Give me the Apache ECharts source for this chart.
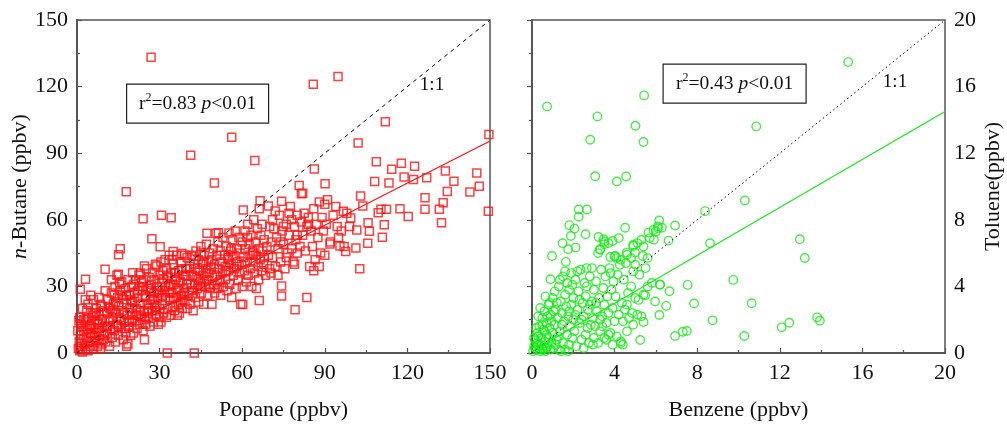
<!DOCTYPE html>
<html>
<head>
<meta charset="utf-8">
<script src="https://cdn.jsdelivr.net/npm/echarts@6/dist/echarts.min.js"></script>
<style>html,body{margin:0;padding:0;background:#fff}#c{width:1007px;height:426px}</style>
</head>
<body>
<div id="c"></div>
<script>
// ---------- DATA ----------
const leftTicksX = [0, 30, 60, 90, 120, 150];
const rightTicks = [0, 4, 8, 12, 16, 20];

// n-Butane vs Propane (ppbv): [propane, butane]
const butaneVsPropaneOutliers = [
[26.9,133.2],[94.8,124.6],[85.8,121.1],[112.0,104.2],[102.1,94.6],[56.2,97.2],[41.3,89.1],[64.6,86.7],[49.9,76.6],[17.9,72.6],
[86.2,82.9],[108.7,86.1],[117.8,85.5],[122.6,84.1],[114.3,82.8],[133.8,82.0],[145.2,81.1],[149.6,98.4],[149.4,63.9],[142.7,72.5],
[146.1,75.1],[136.9,77.4],[134.5,72.8],[127.0,78.9],[122.2,78.1],[118.8,79.3],[113.3,76.6],[108.1,77.2],[126.4,69.9],[126.4,64.7],
[131.6,64.7],[133.0,67.7],[132.4,58.7],[120.3,61.5],[117.3,65.0],[112.4,64.7],[110.4,64.7],[109.4,63.2],[111.6,57.8],[110.9,52.1],
[105.7,58.7],[106.2,54.8],[101.6,55.4],[101.3,47.3],[105.6,49.4],[102.7,38.0],[103.0,70.7],[103.8,66.2],[99.4,60.8],[96.7,63.8],
[97.6,45.7],[95.5,48.2],[91.9,49.1],[90.1,76.2],[80.7,75.4],[81.5,71.7],[74.3,68.4],[69.5,66.2],[66.5,68.6],[60.4,64.4],
[51.3,54.2],[30.7,62.0],[34.2,60.9],[24.0,60.5],[27.2,51.5],[15.7,47.0],[15.1,44.3],[10.2,37.7],[3.1,33.2],[1.2,28.7],
[15.0,35.5],[20.2,36.2],[24.5,39.2],[28.9,39.2],[30.2,47.9],[34.9,45.7],[38.1,44.8],[42.5,43.7],[47.2,53.9],[50.5,53.9],
[74.3,30.2],[74.3,25.7],[83.5,25.0],[79.2,19.5],[66.2,23.7],[60.2,21.9],[18.0,3.0],[32.8,0.0],[42.6,0.0],[24.5,6.0],[0.7,14.5]
];
const butaneVsPropaneLow = [
[0.5,2],[0.8,5],[1,1],[1.2,8],[1.5,3],[1.8,12],[2,0.5],[2.2,6],[2.5,10],[2.8,4],[3,14],[3.2,2],[3.5,7],[3.8,11],[4,1],[4.2,16],[4.5,5],[4.8,9],[5,3],[5.2,13],
[5.5,18],[5.8,7],[6,2],[6.2,11],[6.5,15],[6.8,5],[7,20],[7.2,9],[7.5,3],[7.8,13],[8,17],[8.2,6],[8.5,22],[8.8,10],[9,4],[9.2,15],[9.5,19],[9.8,8],[10,12],[1,16],
[2,20],[3,24],[4,22],[5,26],[6,24],[7,18],[8,25],[9,21],[0.3,10],[1.5,13],[3.5,19],[4.5,12],[6.5,8],[7.5,14],[8.5,2],[9.5,6],[5,9],[2.5,15],[6,17],[8,11],
[10.5,5],[10.8,18],[11,9],[11.2,24],[11.5,14],[11.8,3],[12,20],[12.2,11],[12.5,27],[12.8,7],[13,16],[13.2,22],[13.5,10],[13.8,30],[14,5],[14.2,18],[14.5,13],[14.8,25],[15,8],[15.2,21],
[15.5,16],[15.8,28],[16,11],[16.2,32],[16.5,19],[16.8,6],[17,24],[17.2,14],[17.5,29],[17.8,9],[18,22],[18.2,17],[18.5,33],[18.8,12],[19,26],[19.2,20],[19.5,8],[19.8,30],[20,15],[11,12],
[12,15],[13,19],[14,23],[15,12],[16,15],[17,18],[18,26],[19,14],[20,23],[10.2,28],[12.5,33],[14.5,35],[16.5,26],[18.5,4],[11.5,21],[13.5,26],[15.5,31],[17.5,11],[19.5,24],[20,18]
];
const butaneVsPropaneMid = [
[20.5,9],[20.8,27],[21,14],[21.2,33],[21.5,20],[21.8,11],[22,25],[22.2,17],[22.5,30],[22.8,13],[23,36],[23.2,22],[23.5,16],[23.8,28],[24,10],[24.2,33],[24.5,19],[24.8,25],[25,13],[25.2,38],
[25.5,22],[25.8,29],[26,16],[26.2,34],[26.5,12],[26.8,24],[27,31],[27.2,19],[27.5,36],[27.8,14],[28,27],[28.2,22],[28.5,40],[28.8,17],[29,30],[29.2,25],[29.5,13],[29.8,35],[30,20],[21,23],
[22,28],[23,19],[24,30],[25,26],[26,20],[27,28],[28,33],[29,21],[30,27],[20.5,31],[22.5,35],[24.5,15],[26.5,29],[28.5,19],[30,16],[21.5,17],[23.5,32],[25.5,18],[27.5,24],[29.5,28],
[30.5,14],[30.8,32],[31,22],[31.2,37],[31.5,18],[31.8,28],[32,42],[32.2,25],[32.5,16],[32.8,34],[33,20],[33.2,30],[33.5,44],[33.8,24],[34,17],[34.2,36],[34.5,27],[34.8,21],[35,40],[35.2,31],
[35.5,19],[35.8,33],[36,25],[36.2,44],[36.5,29],[36.8,22],[37,37],[37.2,18],[37.5,32],[37.8,41],[38,26],[38.2,20],[38.5,35],[38.8,29],[39,44],[39.2,23],[39.5,38],[39.8,31],[40,20],[31,26],
[32,30],[33,35],[34,31],[35,25],[36,34],[37,28],[38,38],[39,27],[40,33],[30.5,41],[32.5,38],[34.5,42],[36.5,17],[38.5,24],[40,43],[31.5,33],[33.5,27],[35.5,36],[37.5,23],[39.5,35]
];
const butaneVsPropaneHigh = [
[40.5,26],[40.8,38],[41,22],[41.2,31],[41.5,44],[41.8,28],[42,35],[42.2,19],[42.5,40],[42.8,31],[43,25],[43.2,46],[43.5,34],[43.8,29],[44,42],[44.2,23],[44.5,37],[44.8,32],[45,48],[45.2,27],
[45.5,40],[45.8,35],[46,22],[46.2,44],[46.5,30],[46.8,38],[47,49],[47.2,33],[47.5,26],[47.8,41],[48,36],[48.2,45],[48.5,29],[48.8,39],[49,22],[49.2,34],[49.5,47],[49.8,31],[50,40],[41,39],
[42,27],[43,38],[44,33],[45,30],[46,41],[47,36],[48,31],[49,42],[50,27],[45,45],
[50.5,35],[50.8,44],[51,29],[51.2,50],[51.5,38],[51.8,32],[52,46],[52.2,26],[52.5,41],[52.8,36],[53,52],[53.2,30],[53.5,44],[53.8,39],[54,33],[54.2,48],[54.5,28],[54.8,42],[55,37],[55.2,54],
[55.5,31],[55.8,46],[56,40],[56.2,25],[56.5,51],[56.8,35],[57,44],[57.2,38],[57.5,55],[57.8,29],[58,47],[58.2,41],[58.5,33],[58.8,52],[59,36],[59.2,45],[59.5,22],[59.8,40],[60,50],[52,33],
[54,37],[56,47],[58,39],[60,30],[55,43],
[60.5,43],[60.8,37],[61,55],[61.2,47],[61.5,32],[61.8,41],[62,58],[62.2,35],[62.5,49],[62.8,44],[63,38],[63.2,53],[63.5,30],[63.8,46],[64,41],[64.2,60],[64.5,36],[64.8,50],[65,44],[65.2,29],
[65.5,56],[65.8,39],[66,47],[66.2,65],[66.5,42],[66.8,53],[67,37],[67.2,58],[67.5,46],[67.8,40],[68,51],[68.5,35],[69,48],[69.5,44],[70,57],[62,52],[64,45],[66,33],[68,43],[70,38],
[70.5,50],[71,43],[71.5,56],[72,39],[72.5,52],[73,47],[73.5,62],[74,41],[74.5,55],[75,49],[75.5,38],[76,58],[76.5,45],[77,53],[77.5,66],[78,47],[78.5,41],[79,57],[79.5,51],[80,45],
[70.5,36],[72,64],[74,50],[76,43],[78,60],[80,53],[71,60],[73,35],[75,57],[77,63],[79,40],[80,62],
[81,48],[81.5,59],[82,53],[82.5,63],[83,46],[83.5,57],[84,61],[84.5,39],[85,55],[85.5,48],[86,65],[86.5,42],[87,58],[87.5,52],[88,68],[88.5,45],[89,61],[89.5,55],[90,67],[90.5,58],
[91,69],[92,50],[93,62],[94,66],[94.5,57],[95,52],[96,55],[97,48],[98,63],[99,57],[86,37],[88,39],[84,58],[82,72],[90,44]
];

// Toluene vs Benzene (ppbv): [benzene, toluene]
const tolueneVsBenzeneOutliers = [
[15.31,17.47],[0.73,14.81],[5.43,15.47],[3.17,14.21],[5.01,13.65],[10.86,13.61],[2.82,12.81],[5.40,12.67],[3.06,10.62],[4.11,10.30],
[4.56,10.60],[10.31,9.16],[8.38,8.52],[8.62,6.59],[12.97,6.83],[13.21,5.71],[9.75,4.39],[7.54,4.09],[7.85,2.97],[10.64,2.99],
[8.75,1.96],[12.46,1.82],[12.09,1.54],[13.81,2.14],[13.94,1.94],[10.28,1.02],[6.93,1.02],[7.30,1.28],[7.50,1.32],[6.66,3.71],
[6.50,2.83],[6.17,2.28],[5.96,3.09],[6.20,4.11],[5.40,1.86],[5.24,0.78],[5.48,3.47],[5.16,3.19],[6.93,7.66],[6.61,6.75],
[6.16,7.96],[6.29,7.52],[5.88,7.39],[5.64,7.23],[0.89,4.43],[0.97,5.83],[2.26,8.62],[2.66,8.62],[2.26,8.18],[1.81,7.68],
[2.06,7.47],[1.88,7.03],[2.59,7.13],[1.48,6.59],[1.75,6.23],[2.11,6.33],[1.64,5.47],[4.51,7.52],[3.22,6.97],[3.47,6.83],
[3.90,6.73],[3.50,6.53],[3.30,6.23],[4.03,5.83],[3.79,5.77],[4.59,6.03],[4.99,6.03],[5.36,5.83],[4.91,6.43]
];
const tolueneVsBenzeneDense = [
[0.05,0.1],[0.1,0.4],[0.15,0.8],[0.2,0.2],[0.25,1.2],[0.3,0.5],[0.35,1.6],[0.4,0.1],[0.45,0.9],[0.5,2.1],[0.5,0.3],[0.55,1.4],[0.6,0.7],[0.6,2.5],[0.65,0.1],[0.7,1.8],[0.7,1.1],[0.75,0.4],[0.8,2.9],[0.8,0.9],
[0.85,1.5],[0.9,0.2],[0.9,2.3],[0.95,0.6],[1.0,3.3],[1.0,1.2],[0.3,2.2],[0.2,1.5],[0.4,2.7],[0.65,3.4],[0.85,3.0],[0.55,0.2],[0.95,1.9],[0.15,0.3],[0.45,0.5],
[1.05,0.3],[1.1,1.7],[1.1,3.7],[1.15,2.6],[1.2,0.8],[1.25,2.1],[1.3,4.0],[1.3,0.2],[1.35,1.3],[1.4,3.1],[1.45,2.4],[1.5,0.6],[1.5,4.6],[1.55,1.9],[1.6,3.5],[1.6,0.2],[1.65,2.8],[1.7,1.1],[1.7,4.2],[1.75,2.2],
[1.8,0.5],[1.8,3.8],[1.85,1.6],[1.9,2.9],[1.9,4.8],[1.95,0.9],[2.0,3.3],[2.0,2.0],[1.2,3.0],[1.4,0.1],[1.6,4.9],[1.8,2.5],[1.35,4.4],[1.05,2.5],[1.95,4.1],[1.25,1.0],[1.75,0.1],
[2.05,1.3],[2.1,4.4],[2.15,0.4],[2.2,2.6],[2.25,3.7],[2.3,1.8],[2.35,5.0],[2.4,0.8],[2.45,3.0],[2.5,2.2],[2.55,4.2],[2.6,1.1],[2.6,3.4],[2.65,5.1],[2.7,2.6],[2.75,0.6],[2.8,4.6],[2.85,1.7],[2.9,3.1],[2.9,5.1],
[2.95,2.1],[3.0,0.9],[3.0,3.8],[2.2,4.9],[2.4,2.0],[2.7,1.5],[2.5,0.3],[2.3,3.2],[2.8,2.9],[2.1,2.3],[2.65,4.0],[2.95,0.5],
[3.05,1.6],[3.1,4.3],[3.15,2.5],[3.2,0.6],[3.25,3.3],[3.3,1.3],[3.35,5.0],[3.4,2.2],[3.45,3.9],[3.5,0.9],[3.5,2.9],[3.55,4.6],[3.6,1.8],[3.65,3.4],[3.7,2.4],[3.75,5.1],[3.8,1.2],[3.85,3.8],[3.9,0.5],[3.9,2.7],
[3.95,4.3],[4.0,1.9],[3.3,2.0],[3.6,0.8],[3.8,4.8],[3.1,3.0],[3.4,1.6],[3.7,1.1],
[4.05,3.4],[4.1,1.0],[4.15,4.7],[4.2,2.3],[4.25,5.3],[4.3,0.7],[4.35,3.0],[4.4,1.9],[4.45,4.4],[4.5,2.6],[4.55,5.4],[4.6,1.3],[4.65,3.6],[4.7,2.1],[4.8,4.0],[4.85,2.4],[4.9,4.9],[5.0,3.3],[5.1,2.3],[4.3,0.6],
[4.4,0.5],[4.6,2.9],[4.9,1.7],[4.1,5.7],[4.6,5.9],
[5.2,4.7],[5.3,2.2],[5.4,6.4],[5.5,5.1],[5.6,4.0],[5.7,6.9],[5.8,4.2],[5.9,6.8],[6.0,7.3],[6.1,7.6],[5.3,6.8],[5.1,6.6],[4.9,6.5],[5.0,5.3],[5.6,5.7],[6.2,4.1],[6.1,7.5],[4.2,6.9],[4.0,5.8],[3.7,6.6],
[3.5,6.7],[3.3,6.2],[3.2,6.0],[4.3,5.6],[4.8,5.7],[5.4,3.5],
[0.1,0.9],[0.25,0.6],[0.35,0.2],[0.6,1.3],[0.75,2.2],[1.15,0.5],[1.45,1.7],[0.3,1.0],[0.5,1.7],[0.7,0.3]
];

// regression and 1:1 lines (end points)
const fitLeft = [[0, 0.7], [150, 95.5]];
const oneToOneLeft = [[0, 0], [150, 150]];
const fitRight = [[0, 0.1], [20, 14.5]];
const oneToOneRight = [[0, 0], [20, 20]];

const statLeft = 'r²=0.83 p<0.01';
const statRight = 'r²=0.43 p<0.01';

// ---------- CHART ----------
const FONT = 'Liberation Serif';
const AX = '#555';
const RED = '#ff1010';
const GREEN = '#18ea18';
const FS = 22;

const chart = echarts.init(document.getElementById('c'), null, {renderer: 'canvas'});

function axisCommon(extra) {
  return Object.assign({
    type: 'value',
    axisLine: {show: true, lineStyle: {color: AX, width: 2}},
    axisTick: {show: true, inside: true, length: 5, lineStyle: {color: AX, width: 1.2}},
    minorTick: {show: true, splitNumber: 2, length: 3, lineStyle: {color: AX, width: 1.2}},
    splitLine: {show: false},
    minorSplitLine: {show: false},
    axisLabel: {fontFamily: FONT, fontSize: FS, color: '#111', margin: 9},
    nameLocation: 'middle',
    nameTextStyle: {fontFamily: FONT, fontSize: FS, color: '#111'}
  }, extra);
}

const ptsLeft = [].concat(butaneVsPropaneLow, butaneVsPropaneMid, butaneVsPropaneHigh, butaneVsPropaneOutliers);
const ptsRight = [].concat(tolueneVsBenzeneDense, tolueneVsBenzeneOutliers);

chart.setOption({
  animation: false,
  backgroundColor: '#fff',
  grid: [
    {left: 77, top: 20, width: 413, height: 334, show: true, borderColor: AX, borderWidth: 1.5, backgroundColor: 'transparent'},
    {left: 532, top: 20, width: 413, height: 334, show: true, borderColor: AX, borderWidth: 1.5, backgroundColor: 'transparent'}
  ],
  xAxis: [
    axisCommon({gridIndex: 0, min: leftTicksX[0], max: leftTicksX[leftTicksX.length - 1], interval: 30,
      name: 'Popane (ppbv)', nameGap: 46}),
    axisCommon({gridIndex: 1, min: rightTicks[0], max: rightTicks[rightTicks.length - 1], interval: 4,
      name: 'Benzene (ppbv)', nameGap: 46})
  ],
  yAxis: [
    axisCommon({gridIndex: 0, min: 0, max: 150, interval: 30,
      name: '{i|n}-Butane (ppbv)', nameGap: 44,
      nameTextStyle: {fontFamily: FONT, fontSize: FS, color: '#111',
        rich: {i: {fontFamily: FONT, fontSize: FS, fontStyle: 'italic', color: '#111'}}}}),
    axisCommon({gridIndex: 1, min: 0, max: 20, interval: 4, position: 'right',
      name: 'Toluene(ppbv)', nameGap: 37})
  ],
  series: [
    {type: 'line', xAxisIndex: 0, yAxisIndex: 0, data: oneToOneLeft, symbol: 'none', silent: true,
      lineStyle: {color: '#000', width: 1, type: [4, 4]}, z: 3},
    {type: 'scatter', xAxisIndex: 0, yAxisIndex: 0, data: ptsLeft, symbol: 'rect', symbolSize: 8, clip: false,
      itemStyle: {color: 'rgba(0,0,0,0)', borderColor: RED, borderWidth: 1.5}, emphasis: {disabled: true}, z: 2},
    {type: 'line', xAxisIndex: 0, yAxisIndex: 0, data: fitLeft, symbol: 'none', silent: true,
      lineStyle: {color: RED, width: 1.2}, z: 4},
    {type: 'line', xAxisIndex: 1, yAxisIndex: 1, data: oneToOneRight, symbol: 'none', silent: true,
      lineStyle: {color: '#000', width: 1, type: [1.5, 3]}, z: 3},
    {type: 'scatter', xAxisIndex: 1, yAxisIndex: 1, data: ptsRight, symbol: 'circle', symbolSize: 8.5, clip: false,
      itemStyle: {color: 'rgba(0,0,0,0)', borderColor: GREEN, borderWidth: 1.4}, emphasis: {disabled: true}, z: 2},
    {type: 'line', xAxisIndex: 1, yAxisIndex: 1, data: fitRight, symbol: 'none', silent: true,
      lineStyle: {color: GREEN, width: 1.2}, z: 4}
  ]
});

function statGraphic(cx, cy, w, h, txt) {
  const m = txt.match(/^r²=(\S+) p<(\S+)$/);
  return {
    type: 'group', left: cx - w / 2, top: cy - h / 2, z: 100,
    children: [
      {type: 'rect', shape: {x: 0, y: 0, width: w, height: h},
        style: {fill: '#fff', stroke: '#222', lineWidth: 1.2}},
      {type: 'text', x: w / 2, y: h / 2,
        style: {
          text: '{a|r}{s|2}{a|=' + m[1] + ' }{i|p}{a|<' + m[2] + '}',
          align: 'center', verticalAlign: 'middle',
          rich: {
            a: {fontFamily: FONT, fontSize: 19.5, fill: '#111'},
            i: {fontFamily: FONT, fontSize: 19.5, fontStyle: 'italic', fill: '#111'},
            s: {fontFamily: FONT, fontSize: 12, fill: '#111', padding: [0, 0, 11, 0]}
          }
        }}
    ]
  };
}

chart.setOption({
  graphic: [
    statGraphic(197, 103, 142, 39, statLeft),
    statGraphic(734, 83, 143, 39, statRight),
    {type: 'text', x: 432, y: 85, z: 100, style: {text: '1:1', fontFamily: FONT, fontSize: 19, fill: '#111', align: 'center', verticalAlign: 'middle'}},
    {type: 'text', x: 895, y: 82, z: 100, style: {text: '1:1', fontFamily: FONT, fontSize: 19, fill: '#111', align: 'center', verticalAlign: 'middle'}}
  ]
});
</script>
</body>
</html>
